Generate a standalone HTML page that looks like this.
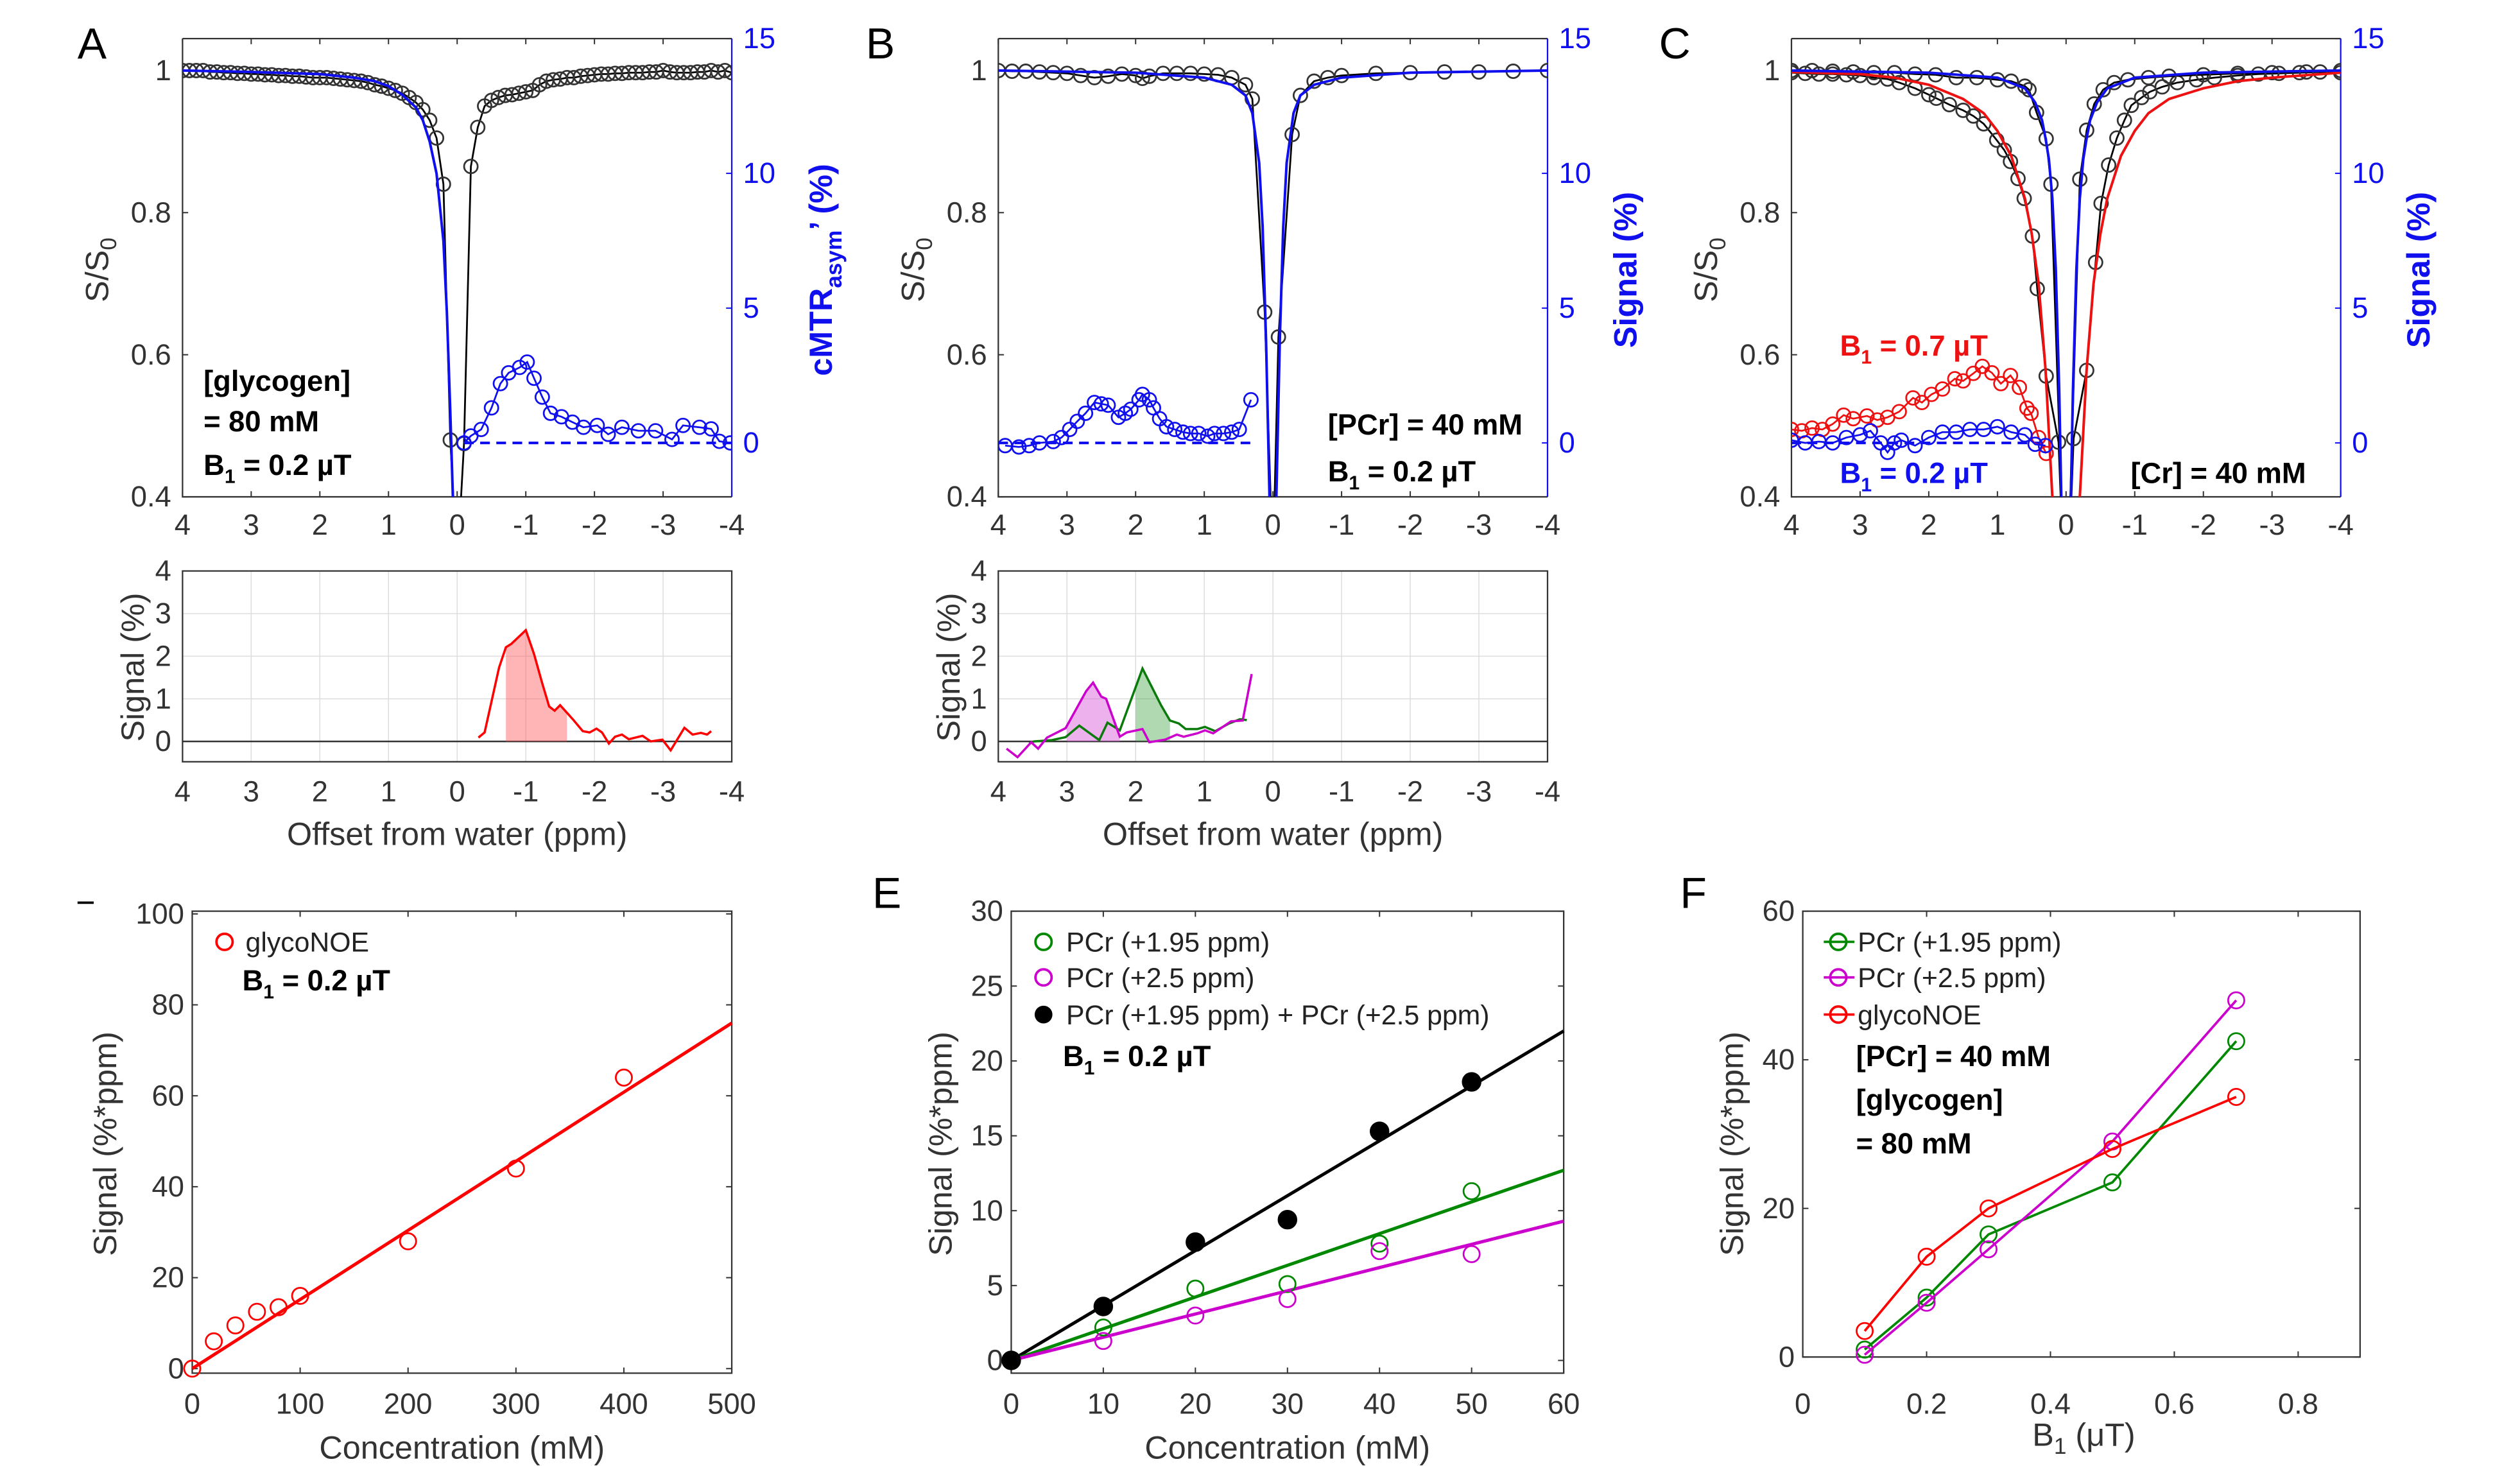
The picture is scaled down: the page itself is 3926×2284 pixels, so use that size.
<!DOCTYPE html>
<html><head><meta charset="utf-8"><style>
html,body{margin:0;padding:0;background:#fff}
svg{display:block}
text{font-family:"Liberation Sans",Arial,sans-serif}
</style></head><body>
<svg id="fig" xmlns="http://www.w3.org/2000/svg" width="3926" height="2284" viewBox="0 0 1560 907.4">
<defs>
<clipPath id="cA"><rect x="113" y="23.8" width="340" height="283.7"/></clipPath>
<clipPath id="cB"><rect x="618" y="23.8" width="340" height="283.7"/></clipPath>
<clipPath id="cC"><rect x="1109" y="23.8" width="340" height="283.7"/></clipPath>
</defs>
<g id="layer"></g>
<g font-size="27">
<text x="48" y="36">A</text>
<text x="536" y="36">B</text>
<text x="1027" y="36">C</text>
<rect x="48" y="558" width="10" height="1.5" fill="#000"/>
<text x="540" y="562">E</text>
<text x="1040" y="562">F</text>
</g>
<g font-size="20" fill="#333">
<text transform="translate(67,167) rotate(-90)" text-anchor="middle">S/S<tspan font-size="14" dy="5">0</tspan></text>
<text transform="translate(572,167) rotate(-90)" text-anchor="middle">S/S<tspan font-size="14" dy="5">0</tspan></text>
<text transform="translate(1063,167) rotate(-90)" text-anchor="middle">S/S<tspan font-size="14" dy="5">0</tspan></text>
<text transform="translate(515,167) rotate(-90)" text-anchor="middle" fill="#1010ee" font-weight="bold">cMTR<tspan font-size="14" dy="6">asym</tspan><tspan dy="-6">’ (%)</tspan></text>
<text transform="translate(1013,167) rotate(-90)" text-anchor="middle" fill="#1010ee" font-weight="bold">Signal (%)</text>
<text transform="translate(1504,167) rotate(-90)" text-anchor="middle" fill="#1010ee" font-weight="bold">Signal (%)</text>
<text transform="translate(89,413) rotate(-90)" text-anchor="middle">Signal (%)</text>
<text transform="translate(594,413) rotate(-90)" text-anchor="middle">Signal (%)</text>
<text x="283" y="523" text-anchor="middle">Offset from water (ppm)</text>
<text x="788" y="523" text-anchor="middle">Offset from water (ppm)</text>
<text transform="translate(72,708) rotate(-90)" text-anchor="middle">Signal (%*ppm)</text>
<text transform="translate(589,708) rotate(-90)" text-anchor="middle">Signal (%*ppm)</text>
<text transform="translate(1079,708) rotate(-90)" text-anchor="middle">Signal (%*ppm)</text>
<text x="286" y="903" text-anchor="middle">Concentration (mM)</text>
<text x="797" y="903" text-anchor="middle">Concentration (mM)</text>
<text x="1290" y="895" text-anchor="middle">B<tspan font-size="14" dy="5">1</tspan><tspan dy="-5"> (μT)</tspan></text>
</g>
<g font-size="18" font-weight="bold">
<text x="126" y="242">[glycogen]</text>
<text x="126" y="267">= 80 mM</text>
<text x="126" y="294">B<tspan font-size="12" dy="5">1</tspan><tspan dy="-5"> = 0.2 µT</tspan></text>
<text x="822" y="269">[PCr] = 40 mM</text>
<text x="822" y="298">B<tspan font-size="12" dy="5">1</tspan><tspan dy="-5"> = 0.2 µT</tspan></text>
<text x="1139" y="220" fill="#ee1111">B<tspan font-size="12" dy="5">1</tspan><tspan dy="-5"> = 0.7 µT</tspan></text>
<text x="1139" y="299" fill="#1010ee">B<tspan font-size="12" dy="5">1</tspan><tspan dy="-5"> = 0.2 µT</tspan></text>
<text x="1319" y="299">[Cr] = 40 mM</text>
<text x="150" y="613">B<tspan font-size="12" dy="5">1</tspan><tspan dy="-5"> = 0.2 µT</tspan></text>
<text x="658" y="660">B<tspan font-size="12" dy="5">1</tspan><tspan dy="-5"> = 0.2 µT</tspan></text>
<text x="1149" y="660">[PCr] = 40 mM</text>
<text x="1149" y="687">[glycogen]</text>
<text x="1149" y="714">= 80 mM</text>
</g>
<g font-size="17" fill="#222">
<circle cx="139" cy="583" r="5" fill="none" stroke="#f00" stroke-width="1.5"/>
<text x="152" y="589">glycoNOE</text>
<circle cx="646" cy="583" r="5" fill="none" stroke="#080" stroke-width="1.5"/>
<text x="660" y="589">PCr (+1.95 ppm)</text>
<circle cx="646" cy="605" r="5" fill="none" stroke="#c0c" stroke-width="1.5"/>
<text x="660" y="611">PCr (+2.5 ppm)</text>
<circle cx="646" cy="628" r="5.5" fill="#000"/>
<text x="660" y="634">PCr (+1.95 ppm) + PCr (+2.5 ppm)</text>
<line x1="1129" y1="583" x2="1148" y2="583" stroke="#080" stroke-width="1.5"/>
<circle cx="1138" cy="583" r="5" fill="none" stroke="#080" stroke-width="1.5"/>
<text x="1150" y="589">PCr (+1.95 ppm)</text>
<line x1="1129" y1="605" x2="1148" y2="605" stroke="#c0c" stroke-width="1.5"/>
<circle cx="1138" cy="605" r="5" fill="none" stroke="#c0c" stroke-width="1.5"/>
<text x="1150" y="611">PCr (+2.5 ppm)</text>
<line x1="1129" y1="628" x2="1148" y2="628" stroke="#f00" stroke-width="1.5"/>
<circle cx="1138" cy="628" r="5" fill="none" stroke="#f00" stroke-width="1.5"/>
<text x="1150" y="634">glycoNOE</text>
</g>
</svg>
<script>
// ---- Panel A data ----
const aZx=[4,3.9,3.8,3.7,3.6,3.5,3.4,3.3,3.2,3.1,3,2.9,2.8,2.7,2.6,2.5,2.4,2.3,2.2,2.1,2,1.9,1.8,1.7,1.6,1.5,1.4,1.3,1.2,1.1,1,0.9,0.8,0.7,0.6,0.5,0.4,0.3,0.2,0.1,0,-0.1,-0.2,-0.3,-0.4,-0.5,-0.6,-0.7,-0.8,-0.9,-1,-1.1,-1.2,-1.3,-1.4,-1.5,-1.6,-1.7,-1.8,-1.9,-2,-2.1,-2.2,-2.3,-2.4,-2.5,-2.6,-2.7,-2.8,-2.9,-3,-3.1,-3.2,-3.3,-3.4,-3.5,-3.6,-3.7,-3.8,-3.9,-4];
const aZy=[1,1,1,1,0.998,0.998,0.997,0.997,0.996,0.996,0.995,0.995,0.994,0.994,0.993,0.993,0.992,0.992,0.991,0.99,0.99,0.99,0.989,0.988,0.987,0.986,0.985,0.983,0.98,0.978,0.975,0.972,0.968,0.962,0.955,0.945,0.93,0.905,0.84,0.48,0.3,0.475,0.865,0.92,0.95,0.958,0.962,0.965,0.966,0.968,0.97,0.972,0.98,0.985,0.987,0.988,0.99,0.99,0.992,0.993,0.994,0.995,0.995,0.996,0.996,0.997,0.997,0.997,0.998,0.998,1,0.998,0.997,0.997,0.997,0.998,0.998,1,0.998,1,0.997];
const aFitX=[4,3,2,1.5,1.2,1,0.8,0.6,0.5,0.4,0.3,0.2,0.15,0.1,0.05,0];
const aFitY=[1,0.998,0.995,0.99,0.985,0.978,0.966,0.948,0.93,0.9,0.855,0.76,0.66,0.52,0.36,0.2];
const aAsymX=[-0.1,-0.2,-0.35,-0.5,-0.63,-0.75,-0.91,-1.02,-1.12,-1.24,-1.36,-1.52,-1.68,-1.84,-2.04,-2.2,-2.4,-2.64,-2.89,-3.13,-3.29,-3.53,-3.7,-3.82,-3.98];
const aAsymY=[0,0.26,0.5,1.3,2.2,2.6,2.8,3.0,2.4,1.7,1.1,0.97,0.77,0.58,0.65,0.32,0.58,0.45,0.45,0.13,0.65,0.58,0.52,0.06,0];
const aStripX=[-0.31,-0.4,-0.61,-0.71,-0.79,-1.0,-1.12,-1.24,-1.34,-1.42,-1.5,-1.69,-1.83,-1.93,-2.03,-2.11,-2.21,-2.3,-2.4,-2.5,-2.7,-2.82,-2.99,-3.11,-3.31,-3.43,-3.55,-3.64,-3.7];
const aStripY=[0.09,0.21,1.73,2.21,2.29,2.61,2.05,1.36,0.82,0.72,0.85,0.51,0.24,0.21,0.3,0.21,-0.05,0.11,0.16,0.05,0.13,0,0.04,-0.21,0.32,0.16,0.2,0.16,0.24];
const aFillRange=[-0.71,-1.6];
// ---- Panel B data ----
const bZx=[4,3.8,3.6,3.4,3.2,3,2.8,2.6,2.4,2.2,2,1.9,1.8,1.6,1.4,1.2,1,0.8,0.6,0.4,0.3,0.12,0,-0.08,-0.28,-0.4,-0.6,-0.8,-1,-1.5,-2,-2.5,-3,-3.5,-4];
const bZy=[1,0.999,0.999,0.998,0.997,0.996,0.993,0.99,0.992,0.995,0.993,0.989,0.992,0.996,0.996,0.996,0.995,0.994,0.99,0.98,0.96,0.66,0.3,0.625,0.91,0.965,0.985,0.99,0.993,0.996,0.997,0.998,0.998,0.999,1];
const bFitX=[4,2,1,0.6,0.4,0.3,0.2,0.15,0.1,0.05,0,-0.05,-0.1,-0.15,-0.2,-0.3,-0.4,-0.6,-1,-2,-4];
const bFitY=[1,0.997,0.99,0.98,0.965,0.94,0.87,0.78,0.62,0.4,0.3,0.4,0.62,0.78,0.87,0.94,0.965,0.98,0.99,0.997,1];
const bAsymX=[3.9,3.7,3.55,3.4,3.2,3.08,2.96,2.85,2.73,2.6,2.5,2.4,2.25,2.15,2.07,1.95,1.9,1.8,1.74,1.65,1.55,1.43,1.31,1.2,1.08,0.95,0.85,0.72,0.6,0.49,0.32];
const bAsymY=[-0.1,-0.15,-0.1,0,0.05,0.2,0.5,0.8,1.1,1.5,1.45,1.4,0.95,1.1,1.25,1.6,1.8,1.6,1.3,0.9,0.6,0.5,0.4,0.35,0.35,0.25,0.35,0.35,0.4,0.5,1.6];
const bMagX=[3.88,3.72,3.52,3.42,3.29,3.02,2.72,2.62,2.5,2.43,2.23,2.13,1.9,1.8,1.57,1.4,1.3,1.1,0.99,0.87,0.61,0.44,0.31];
const bMagY=[-0.17,-0.37,-0.02,-0.17,0.09,0.31,1.18,1.38,1.05,1.0,0.11,0.21,0.29,-0.02,0.04,0.16,0.11,0.19,0.26,0.19,0.47,0.49,1.58];
const bGrnX=[3.55,3.48,3.22,3.02,2.82,2.53,2.41,2.23,1.9,1.63,1.5,1.37,1.27,1.1,0.99,0.84,0.64,0.48,0.38];
const bGrnY=[-0.05,0,0.03,0.1,0.37,0.03,0.44,0.26,1.71,0.85,0.49,0.42,0.29,0.29,0.34,0.24,0.42,0.52,0.5];
const bMagFill=[3.0,2.23];
const bGrnFill=[2.0,1.5];
// ---- Panel C data ----
const cBx=[4,3.8,3.6,3.4,3.2,3,2.8,2.6,2.43,2.2,2,1.89,1.7,1.5,1.35,1.2,1.01,0.9,0.81,0.7,0.61,0.49,0.42,0.29,0.11,0,-0.11,-0.3,-0.43,-0.51,-0.62,-0.74,-0.85,-0.95,-1.1,-1.22,-1.4,-1.62,-1.9,-2.16,-2.5,-2.8,-3.1,-3.4,-3.7,-4];
const cBy=[0.997,0.996,0.995,0.995,0.994,0.993,0.99,0.988,0.983,0.975,0.966,0.961,0.952,0.944,0.936,0.925,0.902,0.888,0.872,0.848,0.82,0.767,0.693,0.57,0.477,0.2,0.482,0.578,0.73,0.813,0.867,0.905,0.93,0.951,0.962,0.97,0.977,0.983,0.987,0.99,0.993,0.995,0.996,0.997,0.998,0.997];
const cNx=[4,3.7,3.4,3.1,2.8,2.5,2.2,1.9,1.6,1.3,1,0.8,0.6,0.54,0.43,0.29,0.22,0,-0.2,-0.3,-0.41,-0.54,-0.7,-0.9,-1.2,-1.5,-2,-2.5,-3,-3.5,-4];
const cNy=[1,1,0.999,0.998,0.997,0.997,0.995,0.994,0.99,0.99,0.987,0.985,0.978,0.973,0.941,0.904,0.84,0.2,0.847,0.916,0.953,0.973,0.983,0.987,0.99,0.992,0.994,0.996,0.997,0.998,1];
const cRedFitX=[4,3,2.5,2,1.5,1.2,1,0.8,0.6,0.5,0.4,0.3,0.2,0.1,0,-0.1,-0.2,-0.3,-0.4,-0.5,-0.6,-0.8,-1,-1.2,-1.5,-2,-2.5,-3,-4];
const cRedFitY=[0.998,0.995,0.99,0.98,0.96,0.94,0.915,0.88,0.82,0.77,0.7,0.58,0.4,0.2,0.1,0.2,0.4,0.58,0.7,0.77,0.82,0.88,0.915,0.94,0.96,0.975,0.985,0.99,0.997];
const cBluFitX=[4,2,1,0.6,0.45,0.35,0.3,0.25,0.2,0.15,0.1,0.05,0,-0.05,-0.1,-0.15,-0.2,-0.25,-0.3,-0.35,-0.45,-0.6,-1,-2,-4];
const cBluFitY=[1,0.997,0.99,0.975,0.955,0.93,0.905,0.875,0.82,0.72,0.55,0.3,0.2,0.3,0.55,0.72,0.82,0.875,0.905,0.93,0.955,0.975,0.99,0.997,1];
const cRedAsX=[4,3.85,3.7,3.55,3.4,3.24,3.1,2.9,2.75,2.6,2.43,2.23,2.1,1.96,1.8,1.62,1.5,1.35,1.22,1.08,0.95,0.81,0.68,0.57,0.51,0.4,0.29];
const cRedAsY=[0.5,0.45,0.55,0.5,0.7,1.03,0.9,1.0,0.85,0.95,1.16,1.67,1.5,1.8,2.0,2.38,2.3,2.58,2.84,2.6,2.2,2.5,2.06,1.29,1.1,0.2,-0.39];
const cBluAsX=[4,3.8,3.6,3.4,3.2,3,2.85,2.7,2.6,2.5,2.4,2.2,2,1.8,1.6,1.4,1.2,1,0.8,0.6,0.45,0.3];
const cBluAsY=[0.1,0,0.05,0,0.2,0.3,0.45,0,-0.35,0,0.1,-0.1,0.2,0.4,0.4,0.5,0.5,0.6,0.4,0.3,-0.05,-0.1];
// ---- Panel D data ----
const dConc=[0,20,40,60,80,100,200,300,400];
const dSig=[0,6,9.5,12.5,13.5,16,28,44,64];
const dFit=[0,76];
// ---- Panel E data ----
const eConc=[0,10,20,30,40,50];
const eGreen=[0,2.2,4.8,5.1,7.8,11.3];
const eMag=[0,1.3,3.0,4.1,7.3,7.1];
const eSum=[0,3.6,7.9,9.4,15.3,18.6];
const eGreenFit=[0,12.7];
const eMagFit=[0,9.3];
const eSumFit=[0,22];
// ---- Panel F data ----
const fB1=[0.1,0.2,0.3,0.5,0.7];
const fGreen=[1,8,16.5,23.5,42.5];
const fMag=[0.3,7.3,14.5,29,48];
const fRed=[3.5,13.5,20,28,35];
// ---- tick labels ----
const ppmTicks=[4,3,2,1,0,-1,-2,-3,-4];
const zTicks=[0.4,0.6,0.8,1];
const zTickLabels=["0.4","0.6","0.8","1"];
const rTicks=[0,5,10,15];
const stripTicks=[0,1,2,3,4];
const dYTicks=[0,20,40,60,80,100];
const dXTicks=[0,100,200,300,400,500];
const eYTicks=[0,5,10,15,20,25,30];
const eXTicks=[0,10,20,30,40,50,60];
const fYTicks=[0,20,40,60];
const fXTicks=[0,0.2,0.4,0.6,0.8];
const fXTickLabels=["0","0.2","0.4","0.6","0.8"];

const NS="http://www.w3.org/2000/svg";
const root=document.getElementById('layer');
function mk(tag,parent,name,attrs){
  const e=document.createElementNS(NS,tag);
  
  
  for(const k in attrs) e.setAttribute(k,attrs[k]);
  parent.appendChild(e);
  return e;
}
function txt(parent,name,x,y,s,attrs){
  const t=mk('text',parent,name,Object.assign({x:x,y:y},attrs||{}));
  t.textContent=s;
  return t;
}
function lin(d0,d1,r0,r1){return v=>r0+(v-d0)/(d1-d0)*(r1-r0);}
function poly(parent,name,xs,ys,sx,sy,attrs){
  const pts=xs.map((x,i)=>sx(x).toFixed(2)+','+sy(ys[i]).toFixed(2)).join(' ');
  return mk('polyline',parent,name,Object.assign({points:pts,fill:'none'},attrs));
}
function circles(parent,name,xs,ys,sx,sy,color,r,filled){
  xs.forEach((x,i)=>{
    mk('circle',parent,name,{cx:sx(x),cy:sy(ys[i]),r:r,fill:filled?color:'none',stroke:color,'stroke-width':1.1});
  });
}
function fillArea(parent,name,xs,ys,lo,hi,sx,sy,color){
  // polygon under line between hi..lo (ppm descending order)
  const pts=[];
  const a=Math.max(lo,hi),b=Math.min(lo,hi);
  const interp=v=>{for(let i=0;i<xs.length-1;i++){const x0=xs[i],x1=xs[i+1];if((v<=x0&&v>=x1)||(v>=x0&&v<=x1)){const t=(v-x0)/(x1-x0);return ys[i]+t*(ys[i+1]-ys[i]);}}return 0;};
  pts.push([a,0]);pts.push([a,interp(a)]);
  xs.forEach((x,i)=>{if(x<a&&x>b)pts.push([x,ys[i]]);});
  pts.push([b,interp(b)]);pts.push([b,0]);
  mk('polygon',parent,name,{points:pts.map(p=>sx(p[0])+','+sy(Math.max(p[1],0))).join(' '),fill:color,stroke:'none'});
}

function zPanel(id,x0,x1,clip,rightCol){
  const g=mk('g',root,id+'-zspectrum-axes',{});
  const y0=23.8,y1=307.5;
  const sx=lin(4,-4,x0,x1);
  const sy=lin(0.4,1.045,y1,y0);
  const sr=lin(-2,15,y1,y0);
  mk('rect',g,id+'-plot-area',{x:x0,y:y0,width:x1-x0,height:y1-y0,fill:'#fff',stroke:'none'});
  ppmTicks.forEach(v=>{
    mk('line',g,id+'-x-tick',{x1:sx(v),x2:sx(v),y1:y1,y2:y1-3.5,stroke:'#333','stroke-width':0.8});
    mk('line',g,id+'-x-tick-top',{x1:sx(v),x2:sx(v),y1:y0,y2:y0+3.5,stroke:'#333','stroke-width':0.8});
    txt(g,id+'-x-tick-label',sx(v),331,String(v),{'text-anchor':'middle','font-size':18,fill:'#333'});
  });
  zTicks.forEach((v,i)=>{
    mk('line',g,id+'-y-tick',{x1:x0,x2:x0+3.5,y1:sy(v),y2:sy(v),stroke:'#333','stroke-width':0.8});
    txt(g,id+'-y-tick-label',x0-7,sy(v)+6,zTickLabels[i],{'text-anchor':'end','font-size':18,fill:'#333'});
  });
  rTicks.forEach(v=>{
    mk('line',g,id+'-right-tick',{x1:x1,x2:x1-3.5,y1:sr(v),y2:sr(v),stroke:'#1010ee','stroke-width':0.8});
    txt(g,id+'-right-tick-label',x1+7,sr(v)+6,String(v),{'font-size':18,fill:'#1010ee'});
  });
  mk('path',g,id+'-frame',{d:`M${x0},${y0}L${x1},${y0}M${x0},${y0}L${x0},${y1}L${x1},${y1}`,fill:'none',stroke:'#333','stroke-width':0.9});
  mk('line',g,id+'-right-axis',{x1:x1,x2:x1,y1:y0,y2:y1,stroke:'#1010ee','stroke-width':0.9});
  const d=mk('g',g,id+'-data',{'clip-path':'url(#'+clip+')'});
  return {sx,sy,sr,d};
}
function stripPanel(id,x0,x1){
  const g=mk('g',root,id+'-strip-axes',{});
  const y0=353.4,y1=471.5;
  const sx=lin(4,-4,x0,x1);
  const sy=lin(0,4,458.9,353.4);
  ppmTicks.forEach(v=>{
    mk('line',g,id+'-strip-grid-x',{x1:sx(v),x2:sx(v),y1:y0,y2:y1,stroke:'#ddd','stroke-width':0.6});
    txt(g,id+'-strip-x-tick-label',sx(v),496,String(v),{'text-anchor':'middle','font-size':18,fill:'#333'});
  });
  stripTicks.forEach(v=>{
    mk('line',g,id+'-strip-grid-y',{x1:x0,x2:x1,y1:sy(v),y2:sy(v),stroke:v===0?'#333':'#ddd','stroke-width':v===0?1:0.6});
    txt(g,id+'-strip-y-tick-label',x0-7,sy(v)+6,String(v),{'text-anchor':'end','font-size':18,fill:'#333'});
  });
  mk('rect',g,id+'-strip-frame',{x:x0,y:y0,width:x1-x0,height:y1-y0,fill:'none',stroke:'#333','stroke-width':0.9});
  return {sx,sy,g};
}
function xyPanel(id,x0,x1,y0,y1,xd,yd,xt,xtl,yt){
  const g=mk('g',root,id+'-axes',{});
  const sx=lin(xd[0],xd[1],x0,x1);
  const sy=lin(yd[0],yd[1],y1,y0);
  xt.forEach((v,i)=>{
    mk('line',g,id+'-x-tick',{x1:sx(v),x2:sx(v),y1:y1,y2:y1-3.5,stroke:'#333','stroke-width':0.8});
    mk('line',g,id+'-x-tick-top',{x1:sx(v),x2:sx(v),y1:y0,y2:y0+3.5,stroke:'#333','stroke-width':0.8});
    txt(g,id+'-x-tick-label',sx(v),875,xtl?xtl[i]:String(v),{'text-anchor':'middle','font-size':18,fill:'#333'});
  });
  yt.forEach(v=>{
    mk('line',g,id+'-y-tick',{x1:x0,x2:x0+3.5,y1:sy(v),y2:sy(v),stroke:'#333','stroke-width':0.8});
    mk('line',g,id+'-y-tick-right',{x1:x1,x2:x1-3.5,y1:sy(v),y2:sy(v),stroke:'#333','stroke-width':0.8});
    txt(g,id+'-y-tick-label',x0-5,sy(v)+6,String(v),{'text-anchor':'end','font-size':18,fill:'#333'});
  });
  mk('rect',g,id+'-frame',{x:x0,y:y0,width:x1-x0,height:y1-y0,fill:'none',stroke:'#333','stroke-width':0.9});
  return {sx,sy,g};
}

// Panel A
let P=zPanel('a',113,453,'cA');
poly(P.d,'a-zspectrum-line',aZx,aZy,P.sx,P.sy,{stroke:'#000','stroke-width':1.1});
circles(P.d,'a-zspectrum-point',aZx,aZy,P.sx,P.sy,'#333',4.2);
poly(P.d,'a-fit-line',aFitX,aFitY,P.sx,P.sy,{stroke:'#1010ee','stroke-width':1.6});
mk('line',P.d,'a-zero-dashed',{x1:P.sx(-0.1),x2:P.sx(-4),y1:P.sr(0),y2:P.sr(0),stroke:'#1010ee','stroke-width':1.6,'stroke-dasharray':'6,4'});
poly(P.d,'a-asym-line',aAsymX,aAsymY,P.sx,P.sr,{stroke:'#1010ee','stroke-width':1.1});
circles(P.d,'a-asym-point',aAsymX,aAsymY,P.sx,P.sr,'#1010ee',4.2);
// Panel B
P=zPanel('b',618,958,'cB');
poly(P.d,'b-zspectrum-line',bZx,bZy,P.sx,P.sy,{stroke:'#000','stroke-width':1.1});
circles(P.d,'b-zspectrum-point',bZx,bZy,P.sx,P.sy,'#333',4.2);
poly(P.d,'b-fit-line',bFitX,bFitY,P.sx,P.sy,{stroke:'#1010ee','stroke-width':1.6});
mk('line',P.d,'b-zero-dashed',{x1:P.sx(4),x2:P.sx(0.3),y1:P.sr(0),y2:P.sr(0),stroke:'#1010ee','stroke-width':1.6,'stroke-dasharray':'6,4'});
poly(P.d,'b-asym-line',bAsymX,bAsymY,P.sx,P.sr,{stroke:'#1010ee','stroke-width':1.1});
circles(P.d,'b-asym-point',bAsymX,bAsymY,P.sx,P.sr,'#1010ee',4.2);
// Panel C
P=zPanel('c',1109,1449,'cC');
poly(P.d,'c-zspectrum-broad-line',cBx,cBy,P.sx,P.sy,{stroke:'#000','stroke-width':1.1});
circles(P.d,'c-zspectrum-broad-point',cBx,cBy,P.sx,P.sy,'#333',4.2);
poly(P.d,'c-zspectrum-narrow-line',cNx,cNy,P.sx,P.sy,{stroke:'#000','stroke-width':1.1});
circles(P.d,'c-zspectrum-narrow-point',cNx,cNy,P.sx,P.sy,'#333',4.2);
poly(P.d,'c-fit-red',cRedFitX,cRedFitY,P.sx,P.sy,{stroke:'#ee1111','stroke-width':1.6});
poly(P.d,'c-fit-blue',cBluFitX,cBluFitY,P.sx,P.sy,{stroke:'#1010ee','stroke-width':1.6});
mk('line',P.d,'c-zero-dashed',{x1:P.sx(4),x2:P.sx(0.3),y1:P.sr(0),y2:P.sr(0),stroke:'#1010ee','stroke-width':1.6,'stroke-dasharray':'6,4'});
poly(P.d,'c-asym-red-line',cRedAsX,cRedAsY,P.sx,P.sr,{stroke:'#ee1111','stroke-width':1.1});
circles(P.d,'c-asym-red-point',cRedAsX,cRedAsY,P.sx,P.sr,'#ee1111',4.2);
poly(P.d,'c-asym-blue-line',cBluAsX,cBluAsY,P.sx,P.sr,{stroke:'#1010ee','stroke-width':1.1});
circles(P.d,'c-asym-blue-point',cBluAsX,cBluAsY,P.sx,P.sr,'#1010ee',4.2);
// Strip A
let S=stripPanel('a',113,453);
fillArea(S.g,'a-strip-fill',aStripX,aStripY,aFillRange[0],aFillRange[1],S.sx,S.sy,'rgba(255,90,90,0.45)');
poly(S.g,'a-strip-line',aStripX,aStripY,S.sx,S.sy,{stroke:'#f00','stroke-width':1.4});
// Strip B
S=stripPanel('b',618,958);
fillArea(S.g,'b-strip-fill-magenta',bMagX,bMagY,bMagFill[0],bMagFill[1],S.sx,S.sy,'rgba(220,100,220,0.5)');
fillArea(S.g,'b-strip-fill-green',bGrnX,bGrnY,bGrnFill[0],bGrnFill[1],S.sx,S.sy,'rgba(60,160,60,0.4)');
poly(S.g,'b-strip-green-line',bGrnX,bGrnY,S.sx,S.sy,{stroke:'#0a7a0a','stroke-width':1.4});
poly(S.g,'b-strip-magenta-line',bMagX,bMagY,S.sx,S.sy,{stroke:'#c0c','stroke-width':1.4});
// Panel D
let Q=xyPanel('d',119,453,564,850,[0,500],[-1,100.6],dXTicks,null,dYTicks);
poly(Q.g,'d-fit-line',[0,500],dFit,Q.sx,Q.sy,{stroke:'#f00','stroke-width':2});
circles(Q.g,'d-point',dConc,dSig,Q.sx,Q.sy,'#f00',5);
// Panel E
Q=xyPanel('e',626,968,564,850,[0,60],[-0.85,30],eXTicks,null,eYTicks);
poly(Q.g,'e-fit-sum',[0,60],eSumFit,Q.sx,Q.sy,{stroke:'#000','stroke-width':2});
poly(Q.g,'e-fit-green',[0,60],eGreenFit,Q.sx,Q.sy,{stroke:'#080','stroke-width':2});
poly(Q.g,'e-fit-magenta',[0,60],eMagFit,Q.sx,Q.sy,{stroke:'#c0c','stroke-width':2});
circles(Q.g,'e-point-green',eConc,eGreen,Q.sx,Q.sy,'#080',5);
circles(Q.g,'e-point-magenta',eConc,eMag,Q.sx,Q.sy,'#c0c',5);
circles(Q.g,'e-point-sum',eConc,eSum,Q.sx,Q.sy,'#000',5.5,true);
// Panel F
Q=xyPanel('f',1116,1461,564,840,[0,0.9],[0,60],fXTicks,fXTickLabels,fYTicks);
poly(Q.g,'f-line-green',fB1,fGreen,Q.sx,Q.sy,{stroke:'#080','stroke-width':1.5});
circles(Q.g,'f-point-green',fB1,fGreen,Q.sx,Q.sy,'#080',5);
poly(Q.g,'f-line-magenta',fB1,fMag,Q.sx,Q.sy,{stroke:'#c0c','stroke-width':1.5});
circles(Q.g,'f-point-magenta',fB1,fMag,Q.sx,Q.sy,'#c0c',5);
poly(Q.g,'f-line-red',fB1,fRed,Q.sx,Q.sy,{stroke:'#f00','stroke-width':1.5});
circles(Q.g,'f-point-red',fB1,fRed,Q.sx,Q.sy,'#f00',5);
</script>
</body></html>
